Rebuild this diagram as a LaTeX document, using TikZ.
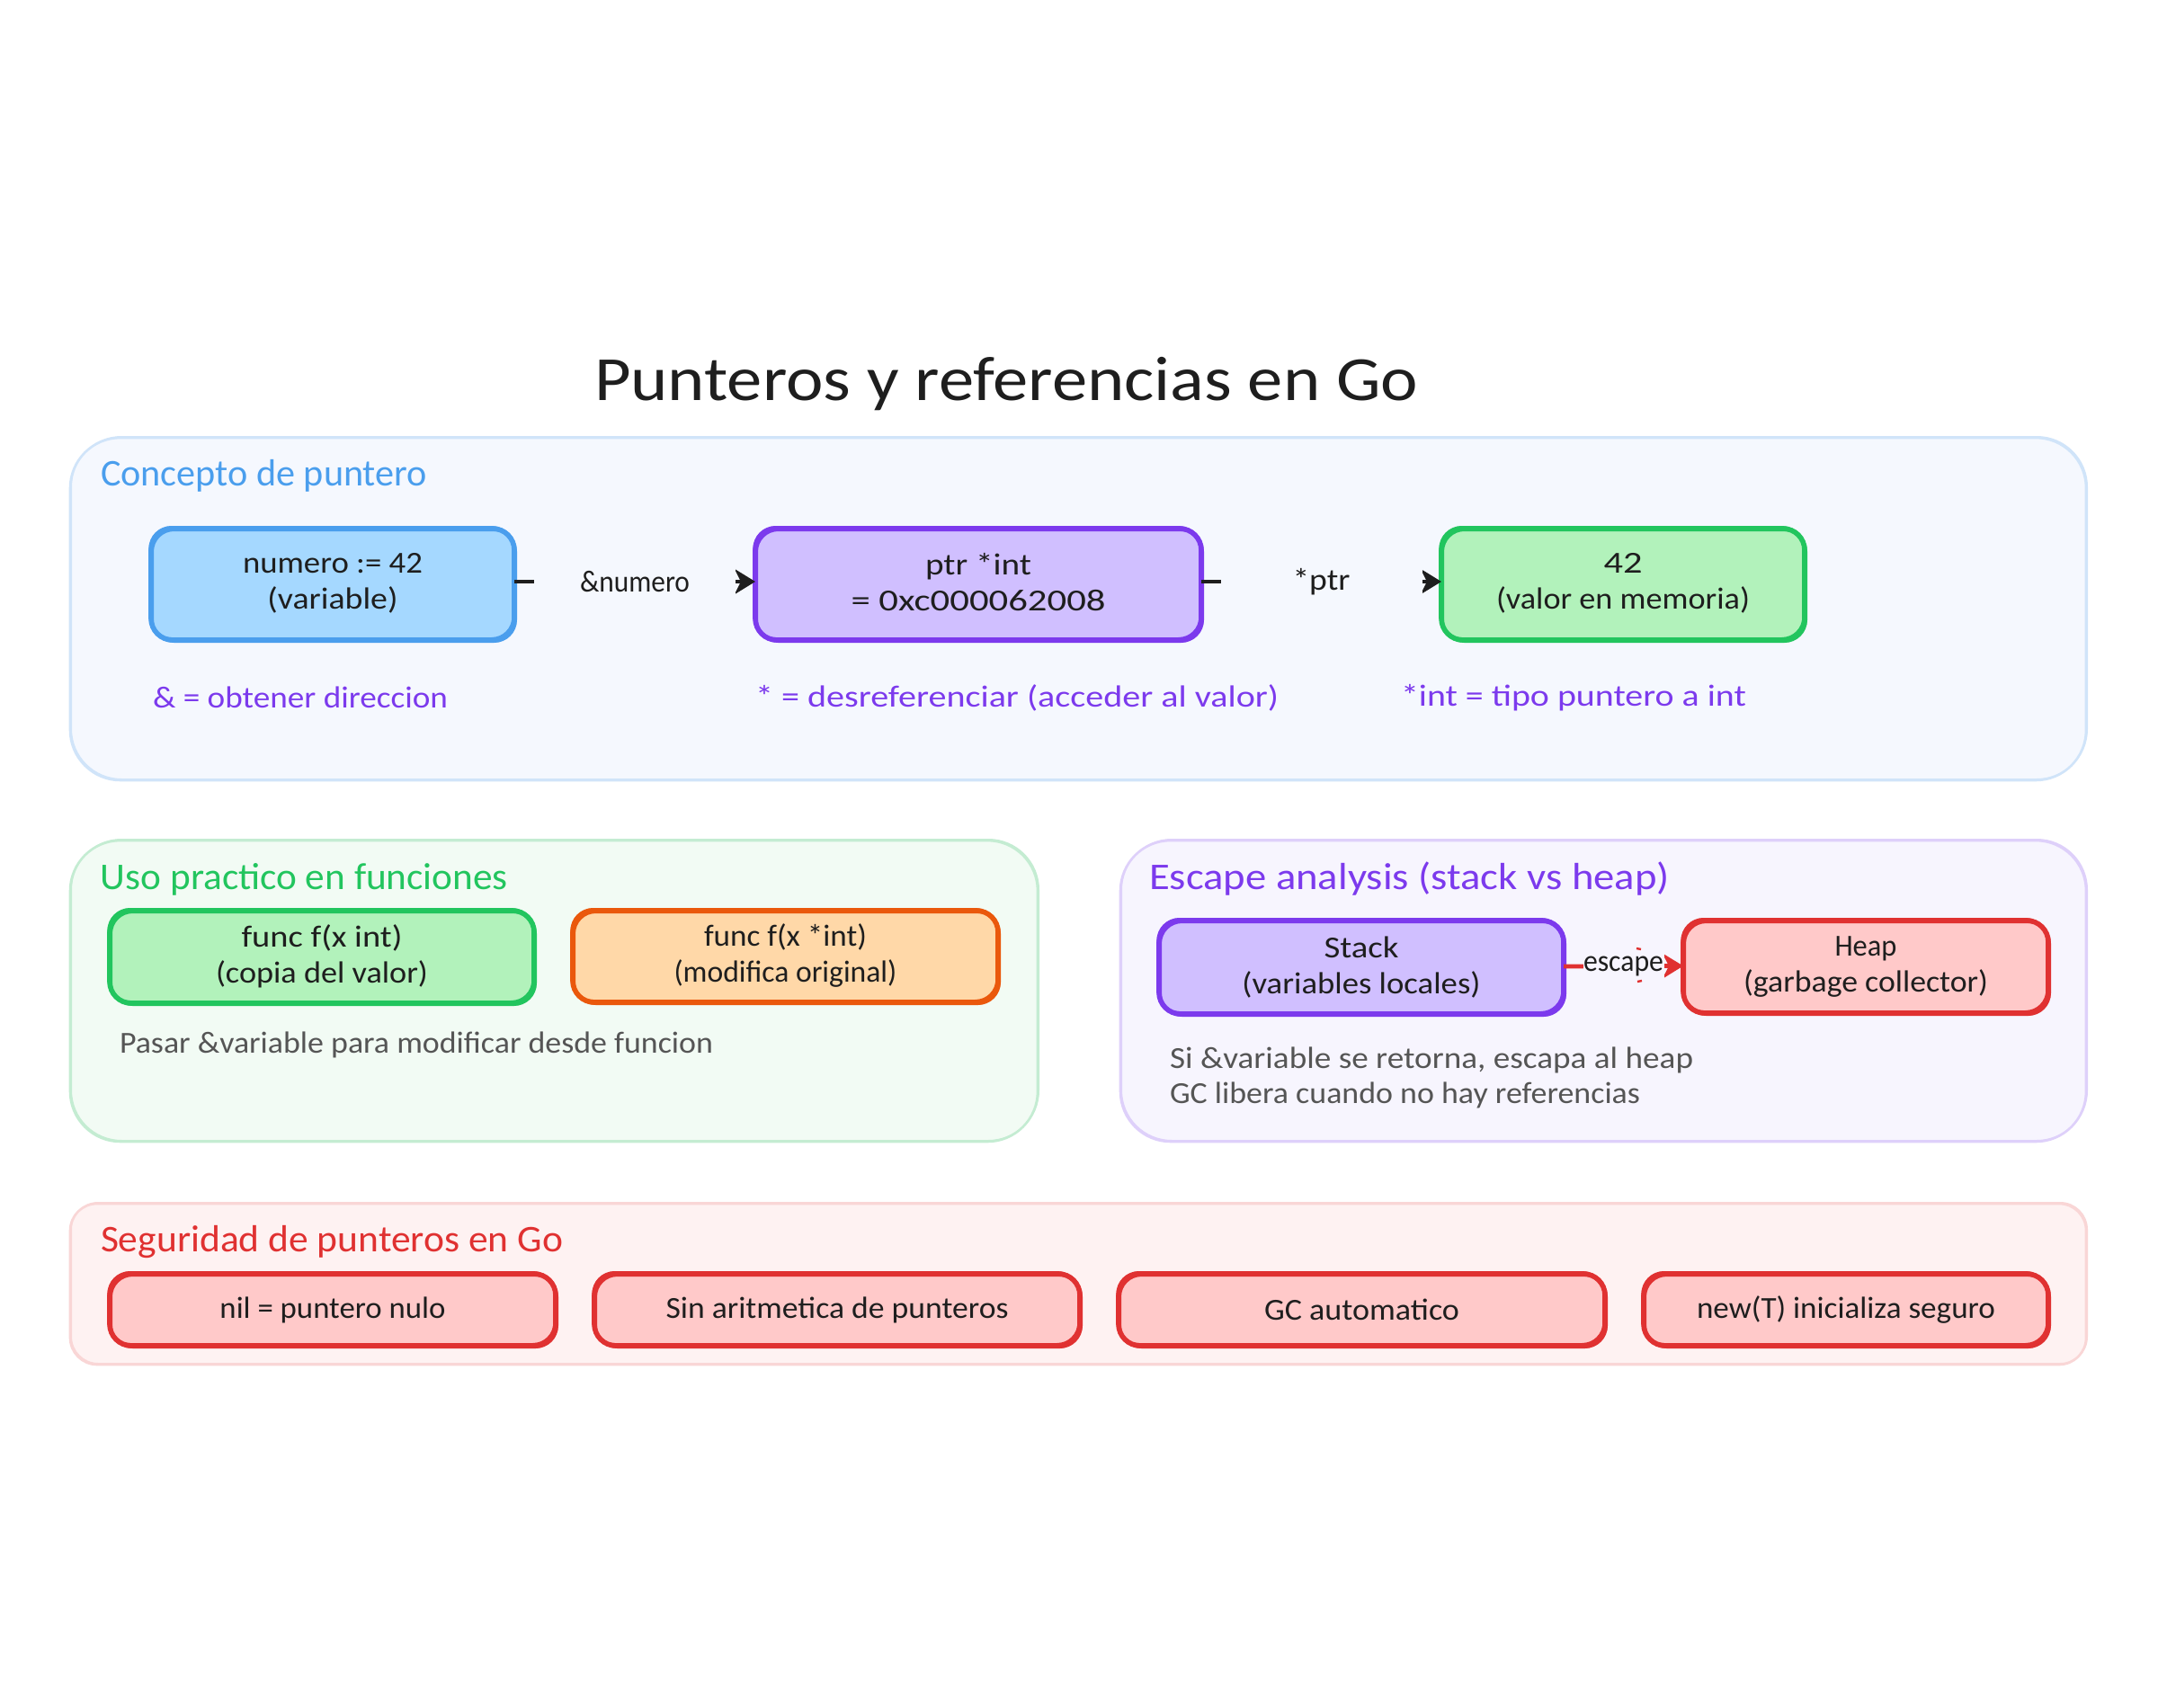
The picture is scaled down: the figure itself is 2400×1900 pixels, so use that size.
\documentclass[tikz,border=0pt]{standalone}
\usepackage{fontspec}
\usepackage{graphicx}
\setmainfont{Carlito}
\usetikzlibrary{arrows.meta}
\definecolor{ink}{HTML}{1E1E1E}
\definecolor{gray5}{HTML}{555555}
\definecolor{blueS}{HTML}{4A9EED}
\definecolor{blueF}{HTML}{A5D8FF}
\definecolor{violetS}{HTML}{7C3AED}
\definecolor{violetF}{HTML}{D0BFFF}
\definecolor{greenS}{HTML}{22C55E}
\definecolor{greenF}{HTML}{B2F2BB}
\definecolor{orangeS}{HTML}{EA580C}
\definecolor{orangeF}{HTML}{FFD8A8}
\definecolor{redS}{HTML}{E03131}
\definecolor{redF}{HTML}{FFC9C9}
\definecolor{panelB}{HTML}{F5F8FE}
\definecolor{panelBs}{HTML}{D0E4F9}
\definecolor{panelG}{HTML}{F2FBF4}
\definecolor{panelGs}{HTML}{C4ECD2}
\definecolor{panelV}{HTML}{F7F5FE}
\definecolor{panelVs}{HTML}{DED0FA}
\definecolor{panelR}{HTML}{FEF2F2}
\definecolor{panelRs}{HTML}{F9D6D6}
% width-fitted text: keeps natural height, sets the reference's width (px = 0.5pt)
\newcommand\fitw[2]{\resizebox{\fpeval{#1*0.5}pt}{\height}{#2}}
% rectangle node from corners in px
\newcommand\rbox[6]{\node[#1,minimum width=\fpeval{(#4-#2)*0.5}pt,minimum height=\fpeval{(#5-#3)*0.5}pt] (#6) at ({(#2+#4)/2},{(#3+#5)/2}) {};}
\tikzset{
  boxbase/.style={rectangle,inner sep=0pt,outer sep=0pt,line width=2.8pt,rounded corners=12pt,
    postaction={draw,line width=1.4pt,transform canvas={shift={(0.8pt,-0.8pt)}}},
    postaction={draw,line width=1.2pt,transform canvas={shift={(-0.7pt,0.9pt)}}}},
  panelbase/.style={rectangle,inner sep=0pt,outer sep=0pt,line width=1.3pt,
    postaction={draw,line width=.8pt,transform canvas={shift={(.6pt,.6pt)}}}},
  bluebox/.style={boxbase,draw=blueS,fill=blueF},
  violetbox/.style={boxbase,draw=violetS,fill=violetF},
  greenbox/.style={boxbase,draw=greenS,fill=greenF},
  orangebox/.style={boxbase,draw=orangeS,fill=orangeF},
  redbox/.style={boxbase,draw=redS,fill=redF},
  txt/.style={inner sep=0pt,outer sep=0pt,text=ink,align=center,font=\fontsize{17}{20}\selectfont},
  head/.style={inner sep=0pt,outer sep=0pt,anchor=west,font=\fontsize{21}{24}\selectfont},
  note/.style={inner sep=0pt,outer sep=0pt,anchor=west,align=left,font=\fontsize{17}{19.5}\selectfont},
  conn/.style={line width=2.4pt,-{Stealth[length=11.5pt,width=14pt,inset=3.5pt]}},
  masklabel/.style={txt,minimum height=22pt},
}
\begin{document}
\begin{tikzpicture}[x=0.5pt,y=-0.5pt]
\useasboundingbox (0,0) rectangle (2400,1900);
\fill[white] (0,0) rectangle (2400,1900);
% title
\node[inner sep=0pt,text=ink,font=\fontsize{35}{40}\selectfont] (title) at (1119,427) {\fitw{916}{Punteros y referencias en Go}};
% panels
\rbox{panelbase,rounded corners=28pt,draw=panelBs,fill=panelB}{78}{487}{2320}{868}{p1}
\rbox{panelbase,rounded corners=28pt,draw=panelGs,fill=panelG}{78}{935}{1154}{1270}{p2}
\rbox{panelbase,rounded corners=28pt,draw=panelVs,fill=panelV}{1246}{935}{2320}{1270}{p3}
\rbox{panelbase,rounded corners=15pt,draw=panelRs,fill=panelR}{78}{1339}{2320}{1518}{p4}
% headings
\node[head,text=blueS] (h1) at (112,529) {\fitw{363}{Concepto de puntero}};
\node[head,text=greenS] (h2) at (112,978) {\fitw{453}{Uso practico en funciones}};
\node[head,text=violetS] (h3) at (1278,978) {\fitw{579}{Escape analysis (stack vs heap)}};
\node[head,text=redS] (h4) at (112,1382) {\fitw{514}{Seguridad de punteros en Go}};
% concept boxes
\rbox{bluebox}{168}{588}{572}{712}{a}
\rbox{violetbox}{840}{588}{1336}{712}{b}
\rbox{greenbox}{1603}{588}{2007}{712}{c}
\node[txt] (at) at ([yshift=.5pt]a) {\fitw{200}{numero := 42}\\\fitw{145}{(variable)}};
\node[txt] (bt) at ([yshift=1pt]b) {\fitw{118}{ptr *int}\\\fitw{283}{= 0xc000062008}};
\node[txt] (ct) at ([yshift=.5pt]c) {\fitw{43}{42}\\\fitw{282}{(valor en memoria)}};
\draw[conn,draw=ink] ([yshift=1.5pt]a.east) -- node[masklabel,fill=panelB,minimum width=112pt] (l1) {\fitw{122}{\&numero}} ([yshift=1.5pt]b.west);
\draw[conn,draw=ink] ([yshift=1.5pt]b.east) -- node[masklabel,fill=panelB,minimum width=112pt] (l2) {\fitw{64}{*ptr}} ([yshift=1.5pt]c.west);
\node[note,text=violetS] (n1) at (170,776) {\fitw{328}{\& = obtener direccion}};
\node[note,text=violetS] (n2) at (840,776) {\fitw{582}{* = desreferenciar (acceder al valor)}};
\node[note,text=violetS] (n3) at (1558,776) {\fitw{384}{*int = tipo puntero a int}};
% functions
\rbox{greenbox}{122}{1013}{594}{1116}{f1}
\rbox{orangebox}{637}{1013}{1110}{1115}{f2}
\node[txt] (f1t) at ([yshift=.5pt]f1) {\fitw{179}{func f(x int)}\\\fitw{236}{(copia del valor)}};
\node[txt] (f2t) at ([yshift=.5pt]f2) {\fitw{181}{func f(x *int)}\\\fitw{248}{(modifica original)}};
\node[note,text=gray5] (n4) at (133,1162) {\fitw{660}{Pasar \&variable para modificar desde funcion}};
% escape
\rbox{violetbox}{1289}{1024}{1739}{1128}{s}
\rbox{redbox}{1872}{1024}{2278}{1127}{hp}
\node[txt] (st) at (s) {\fitw{83}{Stack}\\\fitw{265}{(variables locales)}};
\node[txt] (hpt) at (hp) {\fitw{69}{Heap}\\\fitw{272}{(garbage collector)}};
\draw[conn,draw=redS] ([yshift=.5pt]s.east) -- node[txt,minimum height=20pt,fill=panelV,minimum width=45pt] (l3) {\fitw{89}{escape}} ([yshift=.5pt]hp.west);
\draw[redS,line width=1.2pt] (1820,1055) -- (1825,1056) (1821,1092) -- (1826,1091);
\node[note,text=gray5] (n5) at (1301,1198.5) {\fitw{582}{Si \&variable se retorna, escapa al heap}\\\fitw{523}{GC libera cuando no hay referencias}};
% safety
\rbox{redbox}{122}{1417}{618}{1497}{r1}
\rbox{redbox}{661}{1417}{1201}{1497}{r2}
\rbox{redbox}{1244}{1417}{1785}{1497}{r3}
\rbox{redbox}{1828}{1417}{2278}{1497}{r4}
\node[txt] (r1t) at (r1) {\fitw{251}{nil = puntero nulo}};
\node[txt] (r2t) at (r2) {\fitw{381}{Sin aritmetica de punteros}};
\node[txt] (r3t) at (r3) {\fitw{217}{GC automatico}};
\node[txt] (r4t) at (r4) {\fitw{332}{new(T) inicializa seguro}};
\end{tikzpicture}
\end{document}
